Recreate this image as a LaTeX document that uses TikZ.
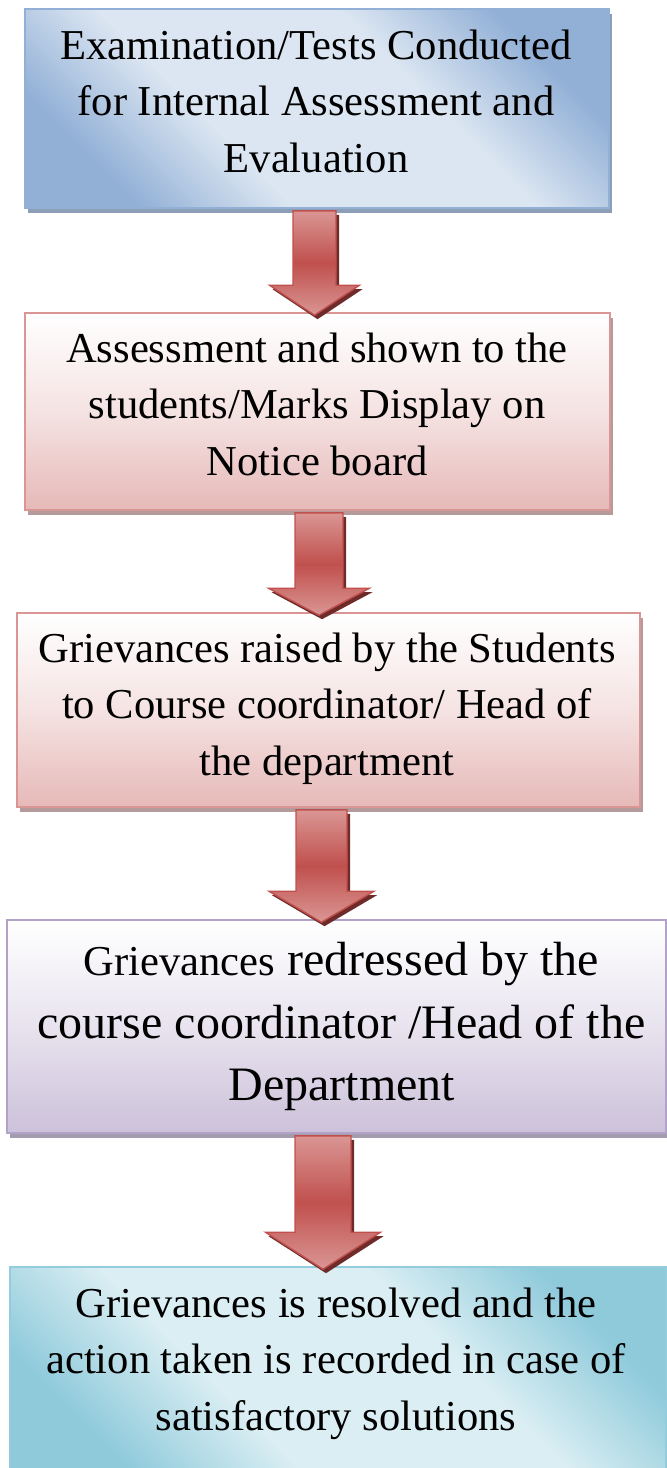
\documentclass[tikz,border=0pt]{standalone}
\usepackage{fontspec}
\setmainfont{Liberation Serif}
\usetikzlibrary{shadows,calc}
\definecolor{blueD}{HTML}{92B0D6}
\definecolor{blueL}{HTML}{DCE6F2}
\definecolor{blueS}{HTML}{8C9FB6}
\definecolor{pinkB}{HTML}{D99694}
\definecolor{pinkL}{HTML}{E6B9B8}
\definecolor{pinkS}{HTML}{B49A9A}
\definecolor{lavB}{HTML}{B3A2C7}
\definecolor{lavL}{HTML}{CCC1DA}
\definecolor{lavS}{HTML}{A39BAE}
\definecolor{aquaB}{HTML}{93CDDD}
\definecolor{aquaD}{HTML}{8FCADB}
\definecolor{aquaL}{HTML}{DAEEF3}
\definecolor{aquaS}{HTML}{8DB3BD}
\definecolor{arrL}{HTML}{DA9694}
\definecolor{arrD}{HTML}{C0504D}
\definecolor{arrS}{HTML}{6E2B29}
\pgfdeclareverticalshading{diagblue}{100bp}{color(0bp)=(blueD); color(25bp)=(blueD); color(39bp)=(blueL); color(61bp)=(blueL); color(75bp)=(blueD); color(100bp)=(blueD)}
\pgfdeclareverticalshading{diagaqua}{100bp}{color(0bp)=(aquaD); color(25bp)=(aquaD); color(39bp)=(aquaL); color(61bp)=(aquaL); color(75bp)=(aquaD); color(100bp)=(aquaD)}
\newcommand{\fsA}{\fontsize{42.6pt}{56pt}\selectfont}
\newcommand{\fsB}{\fontsize{48pt}{63pt}\selectfont}
% #1 from node, #2 to node, #3 centre x, #4 shaft half width, #5 head half width, #6 head length
\newcommand{\blockarrow}[6]{%
  \fill[arrS] let \p1=(#1.south), \p2=(#2.north) in
    ({#3pt-#4pt+3pt},{\y1-6pt}) -- ({#3pt+#4pt+3pt},{\y1-6pt}) -- ({#3pt+#4pt+3pt},{\y2-7pt+#6pt})
    -- ({#3pt+#5pt+3pt},{\y2-7pt+#6pt}) -- ({#3pt+3pt},{\y2-7pt}) -- ({#3pt-#5pt+3pt},{\y2-7pt+#6pt})
    -- ({#3pt-#4pt+3pt},{\y2-7pt+#6pt}) -- cycle;
  \draw[arrowbody] let \p1=(#1.south), \p2=(#2.north) in
    ({#3pt-#4pt},{\y1-2pt}) -- ({#3pt+#4pt},{\y1-2pt}) -- ({#3pt+#4pt},{\y2-3pt+#6pt})
    -- ({#3pt+#5pt},{\y2-3pt+#6pt}) -- (#3pt,{\y2-3pt}) -- ({#3pt-#5pt},{\y2-3pt+#6pt})
    -- ({#3pt-#4pt},{\y2-3pt+#6pt}) -- cycle;
}
\tikzset{
  box/.style={rectangle, inner sep=0pt, line width=1.6pt},
  bluebox/.style={box, draw=blueD, shade, shading=diagblue, shading angle=-45,
    drop shadow={shadow xshift=3pt, shadow yshift=-5pt, fill=blueS, opacity=1}},
  pinkbox/.style={box, draw=pinkB, top color=white, bottom color=pinkL, middle color=pinkL!40!white,
    drop shadow={shadow xshift=3pt, shadow yshift=-5pt, fill=pinkS, opacity=1}},
  lavbox/.style={box, draw=lavB, top color=white, bottom color=lavL, middle color=lavL!45!white,
    drop shadow={shadow xshift=3pt, shadow yshift=-5pt, fill=lavS, opacity=1}},
  aquabox/.style={box, draw=aquaB, shade, shading=diagaqua, shading angle=-45,
    drop shadow={shadow xshift=3pt, shadow yshift=-5pt, fill=aquaS, opacity=1}},
  arrowbody/.style={draw=arrD, line width=1.4pt, line join=miter, top color=arrL, bottom color=arrL, middle color=arrD},
  txt/.style={inner sep=0pt, anchor=base, font=\fsA},
}
\begin{document}
\begin{tikzpicture}[x=1pt,y=-1pt]
\useasboundingbox (0,0) rectangle (667,1468);
% boxes
\node[bluebox, minimum width=584pt, minimum height=199pt] (b1) at (317,108.5) {};
\node[pinkbox, minimum width=585pt, minimum height=197pt] (b2) at (317.5,411.5) {};
\node[pinkbox, minimum width=623pt, minimum height=194pt] (b3) at (328.5,710) {};
\node[lavbox, minimum width=659pt, minimum height=213pt] (b4) at (336.5,1026.5) {};
\node[aquabox, minimum width=656pt, minimum height=212pt] (b5) at (338,1373) {};
% arrows
\blockarrow{b1}{b2}{314.5}{21.5}{45}{30}
\blockarrow{b2}{b3}{319}{24}{50.5}{27}
\blockarrow{b3}{b4}{321.5}{25.5}{52.5}{31}
\blockarrow{b4}{b5}{323}{28}{57.5}{37}
% texts
\node[txt] (t11) at (316,59) {Examination/Tests Conducted};
\node[txt] (t12) at (316,115) {for Internal Assessment and};
\node[txt] (t13) at (316,172) {Evaluation};
\node[txt] (t21) at (317,362) {Assessment and shown to the};
\node[txt] (t22) at (317,418) {students/Marks Display on};
\node[txt] (t23) at (317,475) {Notice board};
\node[txt] (t31) at (327,662) {Grievances raised by the Students};
\node[txt] (t32) at (327,718) {to Course coordinator/ Head of};
\node[txt] (t33) at (327,775) {the department};
\node[txt, font=\fsB] (t41) at (341.5,975) {{\fsA Grievances} redressed by the};
\node[txt, font=\fsB] (t42) at (341.5,1038) {course coordinator /Head of the};
\node[txt, font=\fsB] (t43) at (342,1100) {Department};
\node[txt] (t51) at (336,1317) {Grievances is resolved and the};
\node[txt] (t52) at (336,1373) {action taken is recorded in case of};
\node[txt] (t53) at (336,1430) {satisfactory solutions};
\end{tikzpicture}
\end{document}
